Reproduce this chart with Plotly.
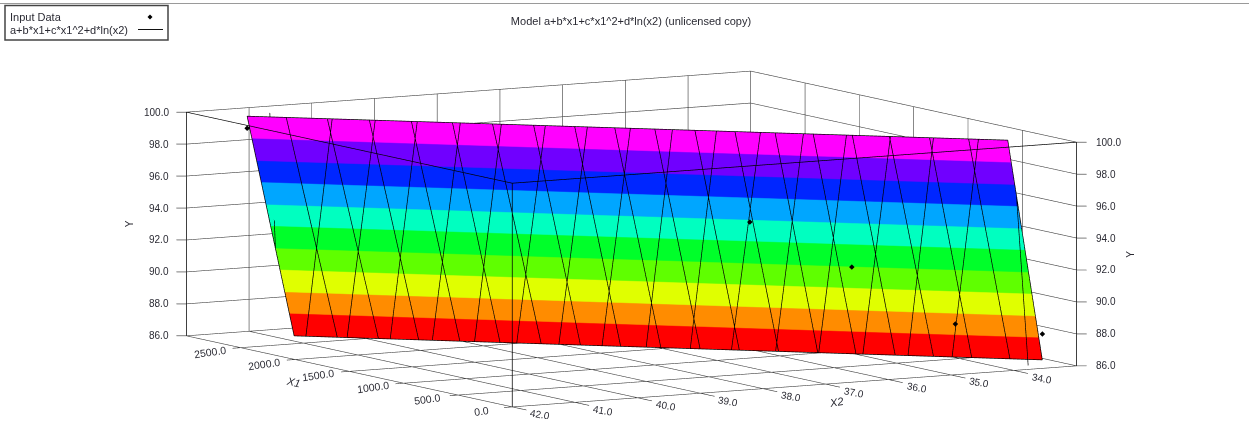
import numpy as np
import plotly.graph_objects as go

# ---- axis ticks
X1_TICKS = [0, 500, 1000, 1500, 2000, 2500, 3000]
X1_LABELS = ["0.0", "500.0", "1000.0", "1500.0", "2000.0", "2500.0"]
X2_TICKS = [33, 34, 35, 36, 37, 38, 39, 40, 41, 42]
X2_LABELS = ["34.0", "35.0", "36.0", "37.0", "38.0", "39.0", "40.0", "41.0", "42.0"]
Y_TICKS = [86, 88, 90, 92, 94, 96, 98, 100]
Y_LABELS = ["86.0", "88.0", "90.0", "92.0", "94.0", "96.0", "98.0", "100.0"]

# ---- input data
DATA_X1 = [2885, 1225, 886, 545, 281]
DATA_X2 = [41.23, 36.09, 35.05, 33.99, 33.06]
DATA_Y = [98.95, 94.07, 91.46, 88.10, 87.60]

# ---- fitted surface, bounded by its top and bottom contour
SURF_Y_TOP = 99.7
SURF_Y_BOT = 86.1
EDGE_TOP_X1 = [2885, 374.5]
EDGE_TOP_X2 = [41.23, 33.45]
EDGE_BOT_X1 = [2700.7, 218]
EDGE_BOT_X2 = [40.80, 33.17]

# mesh family A: X2 where each line meets the top and the bottom contour
FAM_A_TOP = [41.23, 40.83, 40.41, 39.98, 39.55, 39.13, 38.72, 38.30, 37.88, 37.47,
             37.06, 36.65, 36.24, 35.83, 35.44, 35.04, 34.66, 34.25, 33.85, 33.45]
FAM_A_BOT = [40.80, 40.36, 39.94, 39.53, 39.11, 38.70, 38.28, 37.88, 37.47, 37.06,
             36.66, 36.26, 35.86, 35.46, 35.07, 34.67, 34.28, 33.89, 33.50, 33.17]
# mesh family B
FAM_B_TOP = [40.36, 39.92, 39.49, 39.05, 38.63, 38.18, 37.75, 37.31,
             36.88, 36.43, 35.98, 35.54, 35.10, 34.65, 34.21, 33.75]
FAM_B_BOT = [40.68, 40.26, 39.82, 39.39, 38.96, 38.53, 38.10, 37.66,
             37.21, 36.76, 36.34, 35.89, 35.45, 35.00, 34.54, 34.09]
# the two short family B lines that end on the side edges of the surface
SHORT_X1 = [[2936, 2774.5], [333.8, 77.0]]
SHORT_X2 = [[40.78, 40.97], [33.38, 33.64]]
SHORT_Y = [[99.7, 91.54], [96.17, 86.1]]

BAND_COLORS = ["#ff0000", "#ff8c00", "#e0ff00", "#5fff00", "#00ff2a",
               "#00ffc0", "#00a6ff", "#0026ff", "#7000ff", "#ff00ff"]

# ---- style and layout
FONT = "Liberation Sans"
TXT = "#2a2a33"
GRID = "#404040"
EDGE = "#303030"
TICK_X1_DX2 = 0.13
TICK_X2_DX1 = -130
TICK_Y = (23, 0.12)
LIFT = (-26, 0.045, 0.05)   # nudges mesh toward the camera so it is not buried in the surface

X1_RANGE = [-300, 3300]
X2_RANGE = [32.1, 42.9]
Y_RANGE = [85, 101]
X1A, X1B, X2A, X2B, YA, YB = 0, 3000, 33, 42, 86, 100
ZOOM = 3.542
EYE_R = 4


def top_x1(x2):
    return np.interp(x2, EDGE_TOP_X2[::-1], EDGE_TOP_X1[::-1])


def bot_x1(x2):
    return np.interp(x2, EDGE_BOT_X2[::-1], EDGE_BOT_X1[::-1])


def segs(items):
    xs, ys, zs = [], [], []
    for a, b in items:
        xs += [a[0], b[0], None]
        ys += [a[1], b[1], None]
        zs += [a[2], b[2], None]
    return xs, ys, zs


def line3d(items, color, width=1, name=""):
    xs, ys, zs = segs(items)
    return go.Scatter3d(x=xs, y=ys, z=zs, mode="lines", name=name, showlegend=False,
                        hoverinfo="skip", line=dict(color=color, width=width))


# grid on floor and the two rear walls
grid = []
for v in X1_TICKS:
    grid.append(((v, X2A, YA), (v, X2B, YA)))
    grid.append(((v, X2A, YA), (v, X2A, YB)))
for v in X2_TICKS:
    grid.append(((X1A, v, YA), (X1B, v, YA)))
    grid.append(((X1B, v, YA), (X1B, v, YB)))
for v in Y_TICKS:
    grid.append(((X1B, X2A, v), (X1B, X2B, v)))
    grid.append(((X1A, X2A, v), (X1B, X2A, v)))

# box edges that are not part of the rear grid, plus the ticks
edges = [
    ((X1A, X2B, YA), (X1A, X2B, YB)),
    ((X1B, X2B, YA), (X1B, X2B, YB)),
    ((X1A, X2A, YA), (X1A, X2A, YB)),
    ((X1B, X2B, YB), (X1A, X2B, YB)),
    ((X1A, X2B, YB), (X1A, X2A, YB)),
]
ticks = []
for v in X1_TICKS[:-1]:
    ticks.append(((v, X2B, YA), (v, X2B + TICK_X1_DX2, YA)))
for v in X2_TICKS[1:]:
    ticks.append(((X1A, v, YA), (X1A + TICK_X2_DX1, v, YA)))
for v in Y_TICKS:
    ticks.append(((X1B, X2B, v), (X1B + TICK_Y[0], X2B + TICK_Y[1], v)))
    ticks.append(((X1A, X2A, v), (X1A - TICK_Y[0], X2A - TICK_Y[1], v)))

# surface
col_top = np.array(FAM_A_TOP)
col_bot = np.array(FAM_A_BOT)
sx = np.array([top_x1(col_top), bot_x1(col_bot)])
sy = np.array([col_top, col_bot])
sz = np.array([[SURF_Y_TOP] * len(col_top), [SURF_Y_BOT] * len(col_bot)])
n = len(BAND_COLORS)
scale = []
for i, c in enumerate(BAND_COLORS):
    scale += [[i / n, c], [(i + 1) / n, c]]


def lifted(p):
    return (p[0] + LIFT[0], p[1] + LIFT[1], p[2] + LIFT[2])


mesh = []
for t, b in zip(FAM_A_TOP, FAM_A_BOT):
    mesh.append((lifted((top_x1(t), t, SURF_Y_TOP)), lifted((bot_x1(b), b, SURF_Y_BOT))))
for t, b in zip(FAM_B_TOP, FAM_B_BOT):
    mesh.append((lifted((top_x1(t), t, SURF_Y_TOP)), lifted((bot_x1(b), b, SURF_Y_BOT))))
for xx, yy, zz in zip(SHORT_X1, SHORT_X2, SHORT_Y):
    mesh.append((lifted((xx[0], yy[0], zz[0])), lifted((xx[1], yy[1], zz[1]))))
mesh.append((lifted((top_x1(FAM_A_TOP[0]), FAM_A_TOP[0], SURF_Y_TOP)), lifted((top_x1(FAM_A_TOP[-1]), FAM_A_TOP[-1], SURF_Y_TOP))))
mesh.append((lifted((bot_x1(FAM_A_BOT[0]), FAM_A_BOT[0], SURF_Y_BOT)), lifted((bot_x1(FAM_A_BOT[-1]), FAM_A_BOT[-1], SURF_Y_BOT))))

fig = go.Figure()
fig.add_trace(line3d(grid, GRID, 1.2, "grid"))
fig.add_trace(go.Surface(x=sx, y=sy, z=sz, surfacecolor=sz, cmin=SURF_Y_BOT, cmax=SURF_Y_TOP,
                         colorscale=scale, showscale=False, hoverinfo="skip",
                         name="a+b*x1+c*x1^2+d*ln(x2)",
                         lighting=dict(ambient=1, diffuse=0, specular=0, fresnel=0, roughness=1)))
fig.add_trace(line3d(mesh + edges, "#000000", 1.4, "a+b*x1+c*x1^2+d*ln(x2)"))
fig.add_trace(line3d(ticks, EDGE, 1.2, "ticks"))
fig.add_trace(go.Scatter3d(x=[v + 2 * LIFT[0] for v in DATA_X1], y=[v + 2 * LIFT[1] for v in DATA_X2],
                           z=[v + 2 * LIFT[2] for v in DATA_Y],
                           mode="markers", name="Input Data", showlegend=False, hoverinfo="skip",
                           marker=dict(color="#000000", size=1.8, symbol="diamond")))

anns = []


def label(x, y, z, text, angle=0, xanchor="center", xshift=0, yshift=0, italic=False, size=10):
    anns.append(dict(x=x, y=y, z=z, text=text, showarrow=False, textangle=angle, xanchor=xanchor,
                     yanchor="middle", xshift=xshift, yshift=yshift,
                     font=dict(family=FONT, size=size, color=TXT, style="italic" if italic else "normal")))


for v, t in zip(X1_TICKS, X1_LABELS):
    label(v, X2B, YA, t, angle=-8, xshift=-31, yshift=-4, size=10.5)
for v, t in zip(X2_TICKS[1:], X2_LABELS):
    label(X1A, v, YA, t, angle=10, xshift=28, yshift=-8, size=10)
for v, t in zip(Y_TICKS, Y_LABELS):
    label(X1B, X2B, v, t, xanchor="right", xshift=-15)
    label(X1A, X2A, v, t, xanchor="left", xshift=17)
label(X1A, X2A, 93, "Y", angle=-90, xshift=53, size=10)
label(X1B, X2B, 93, "Y", angle=-90, xshift=-56, size=10)
label(1500, X2B, YA, "X1", angle=12, xshift=-56, yshift=-11, italic=True, size=11)
label(X1A, 37.5, YA, "X2", angle=-10, xshift=42, yshift=-15.5, italic=True, size=11)

W, H = 1249, 423


def px(x, y):
    return x / W, 1 - y / H


def pshape(x0, y0, x1, y1, **kw):
    a, b = px(x0, y0)
    c, d = px(x1, y1)
    return dict(xref="paper", yref="paper", x0=a, y0=b, x1=c, y1=d, **kw)


shapes = [
    pshape(0, 3.5, W, 3.5, type="line", line=dict(color="#9a9a9a", width=1)),
    pshape(5, 5.5, 168, 40, type="rect", line=dict(color="#444444", width=1.5), fillcolor="#ffffff"),
    pshape(138, 29.5, 163, 29.5, type="line", line=dict(color="#111111", width=1)),
]
cx, cy = px(150, 17)
shapes.append(dict(type="path", xref="paper", yref="paper", fillcolor="#000000",
                   line=dict(color="#000000", width=0),
                   path=f"M {cx-2.5/W} {cy} L {cx} {cy+2.5/H} L {cx+2.5/W} {cy} L {cx} {cy-2.5/H} Z"))
legend_text = [
    dict(text="Input Data", x=8, y=17),
    dict(text="a+b*x1+c*x1^2+d*ln(x2)", x=8, y=29.5),
]
paper_ann = []
for item in legend_text:
    a, b = px(item["x"], item["y"])
    paper_ann.append(dict(xref="paper", yref="paper", x=a, y=b, text=item["text"], showarrow=False,
                          xanchor="left", yanchor="middle", xshift=0,
                          font=dict(family=FONT, size=11, color=TXT)))

fig.update_layout(
    width=W, height=H, margin=dict(l=0, r=0, t=0, b=0), paper_bgcolor="#ffffff", showlegend=False,
    font=dict(family=FONT, size=11, color=TXT),
    title=dict(text="Model a+b*x1+c*x1^2+d*ln(x2) (unlicensed copy)", x=631 / W, y=1 - 21 / H,
               xanchor="center", yanchor="middle", font=dict(family=FONT, size=11, color=TXT)),
    shapes=shapes, annotations=paper_ann,
    scene=dict(
        domain=dict(x=[2 * 631.5 / W - 1, 1], y=[0, 2 * (1 - 239 / H)]),
        xaxis=dict(visible=False, range=X1_RANGE, autorange=False),
        yaxis=dict(visible=False, range=X2_RANGE, autorange=False),
        zaxis=dict(visible=False, range=Y_RANGE, autorange=False),
        aspectmode="manual", aspectratio=dict(x=1.2 * ZOOM, y=1.2 * ZOOM, z=0.3954 * ZOOM),
        camera=dict(projection=dict(type="orthographic"), up=dict(x=0, y=0, z=1),
                    center=dict(x=0, y=0, z=0),
                    eye=dict(x=-0.859 * EYE_R, y=0.496 * EYE_R, z=0.1259 * EYE_R)),
        annotations=anns,
        dragmode=False,
    ),
)
fig.write_html("out.html", config=dict(displayModeBar=False),
               post_script="document.body.style.margin='0';document.documentElement.style.overflow='hidden';")
